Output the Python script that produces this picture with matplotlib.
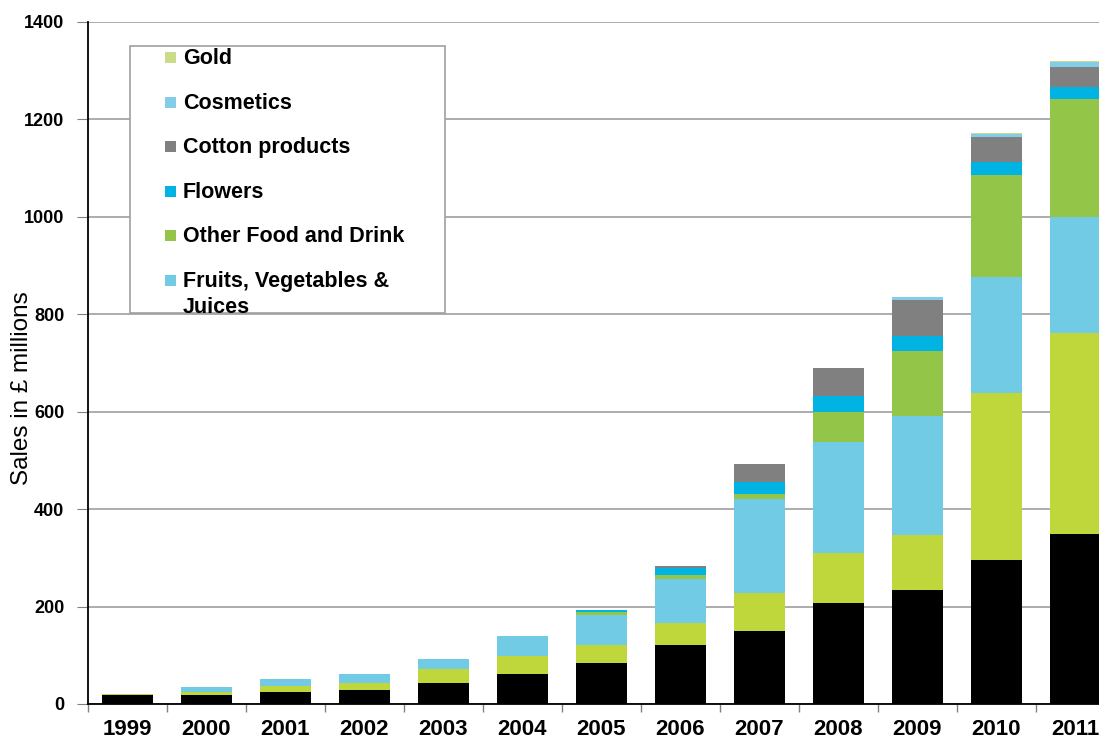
import numpy as np
import matplotlib.pyplot as plt
from matplotlib.patches import Rectangle

plt.rcParams['font.family'] = ['Liberation Sans', 'DejaVu Sans']

years = ['1999', '2000', '2001', '2002', '2003', '2004', '2005',
         '2006', '2007', '2008', '2009', '2010', '2011']

# ventas por categoría, £ millones (de abajo hacia arriba en la pila)
black_series = [19, 19, 24, 29, 44, 61, 85, 121, 150, 207, 235, 296, 348]
green_yellow = [2, 5, 12, 15, 28, 38, 36, 45, 77, 102, 111, 342, 414]
fruits_veg = [0, 10, 15, 18, 20, 41, 61, 91, 193, 229, 245, 239, 237]
other_food = [0, 0, 0, 0, 0, 0, 6, 7, 12, 62, 134, 209, 242]
flowers = [0, 0, 0, 0, 0, 0, 4, 15, 24, 33, 30, 27, 26]
cotton = [0, 0, 0, 0, 0, 0, 1, 4, 36, 56, 74, 50, 40]
cosmetics = [0, 0, 0, 0, 0, 0, 0, 0, 0, 0, 6, 8, 10]
gold = [0, 0, 0, 0, 0, 0, 0, 0, 0, 0, 0, 2, 2]

series = [black_series, green_yellow, fruits_veg, other_food,
          flowers, cotton, cosmetics, gold]
colors = ['#000000', '#BFD73B', '#72CBE4', '#93C548',
          '#00B3E3', '#808080', '#84CDE8', '#C9DC8A']

legend_labels = ['Gold', 'Cosmetics', 'Cotton products', 'Flowers',
                 'Other Food and Drink', 'Fruits, Vegetables &\nJuices']
legend_colors = ['#C9DC8A', '#84CDE8', '#808080', '#00B3E3',
                 '#93C548', '#72CBE4']

W, H = 1099, 741
fig = plt.figure(figsize=(W / 100, H / 100), dpi=100)
ax = fig.add_axes([88 / W, 1 - 704 / H, 1 - 88 / W, (704 - 22) / H])

x = np.arange(len(years))
bottom = np.zeros(len(years))
for vals, col in zip(series, colors):
    ax.bar(x, vals, width=0.65, bottom=bottom, color=col, zorder=3)
    bottom += np.array(vals)

ax.set_xlim(-0.5, 12.3)
ax.set_ylim(0, 1400)
ax.set_yticks(range(0, 1401, 200))
ax.yaxis.grid(True, color='#A6A6A6', linewidth=1.3, zorder=0)
ax.set_axisbelow(True)

ax.set_xticks(x)
ax.set_xticklabels(years, fontsize=16, fontweight='bold')
ax.set_xticks(np.arange(-0.5, 12.5, 1), minor=True)
ax.tick_params(axis='x', which='major', length=0, pad=11)
ax.tick_params(axis='x', which='minor', length=6, color='#808080', width=1)
ax.tick_params(axis='y', length=8, color='#808080', pad=9)
for lab in ax.get_yticklabels():
    lab.set_fontsize(13)
    lab.set_fontweight('bold')

ax.spines['top'].set_visible(False)
ax.spines['right'].set_visible(False)
ax.spines['left'].set_color('black')
ax.spines['left'].set_linewidth(1.3)
ax.spines['bottom'].set_color('black')
ax.spines['bottom'].set_linewidth(1.3)
ax.set_ylabel('Sales in £ millions', fontsize=17.5)
ax.yaxis.set_label_coords(-0.054, 0.463)

# cuadro de leyenda
def fx(px):
    return px / W

def fy(py):
    return 1 - py / H

fig.patches.append(Rectangle((fx(130), fy(313)), fx(445) - fx(130),
                             fy(46) - fy(313), transform=fig.transFigure,
                             facecolor='white', edgecolor='#A0A0A0',
                             linewidth=1.2, zorder=5))
for i, (lab, col) in enumerate(zip(legend_labels, legend_colors)):
    py = 57.5 + 44.6 * i
    fig.patches.append(Rectangle((fx(165), fy(py + 5.5)), fx(11), 11 / H,
                                 transform=fig.transFigure, facecolor=col,
                                 edgecolor='none', zorder=6))
    fig.text(fx(183), fy(py - 9.5), lab, fontsize=15.5, fontweight='bold',
             va='top', ha='left', linespacing=1.3, zorder=7)

fig.savefig('out.png', dpi=100)
